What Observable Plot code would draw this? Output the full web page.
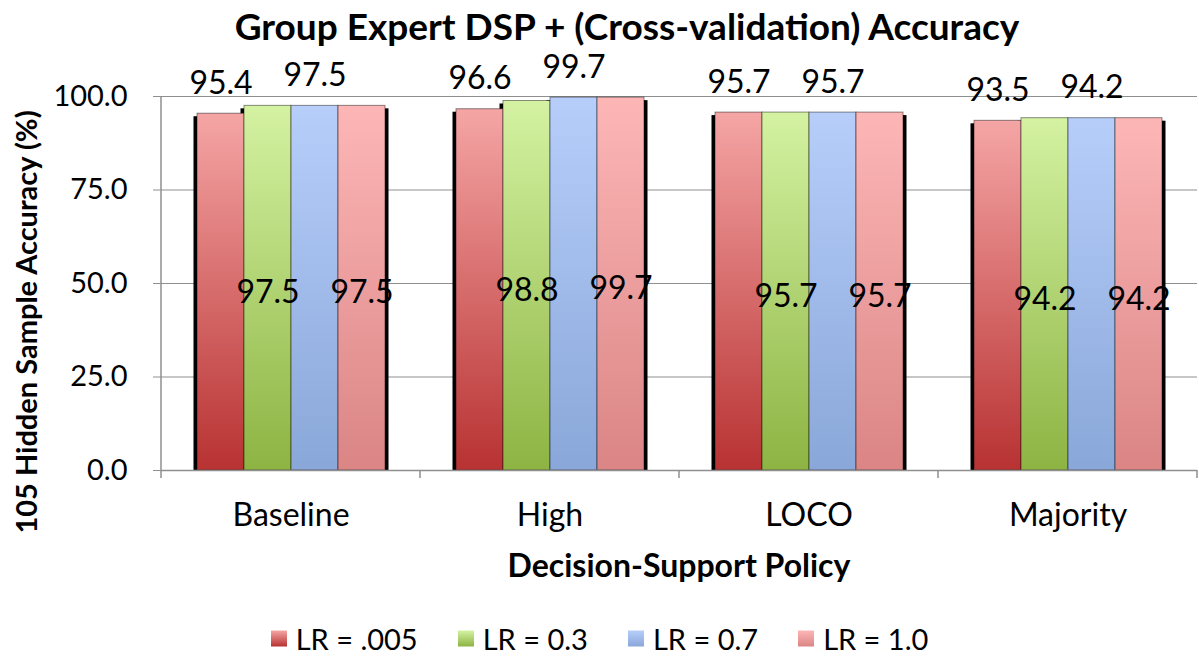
<!DOCTYPE html>
<html>
<head>
<meta charset="utf-8">
<script src="https://cdn.jsdelivr.net/npm/d3@7"></script>
<script src="https://cdn.jsdelivr.net/npm/@observablehq/plot@0.6"></script>
<style>
  html, body { margin: 0; padding: 0; background: #fff; }
  #wrap { position: relative; width: 1199px; height: 658px; font-family: Lato, "Open Sans", sans-serif; color: #000; overflow: hidden; }
  #chart { position: absolute; left: 0; top: 0; }
  .title { position: absolute; left: 627px; top: 25px; transform: translate(-50%, -50%); font-size: 37px; font-weight: 700; white-space: nowrap; line-height: 1; }
  .ytitle { position: absolute; left: 25px; top: 322px; transform: translate(-50%, -50%) rotate(-90deg); font-size: 29px; font-weight: 700; white-space: nowrap; line-height: 1; }
  .xtitle { position: absolute; left: 679px; top: 565px; transform: translate(-50%, -50%); font-size: 32px; font-weight: 700; white-space: nowrap; line-height: 1; }
  .legend { position: absolute; left: 0; width: 1199px; top: 638px; transform: translateY(-50%); display: flex; justify-content: center; gap: 40px; font-size: 29px; line-height: 1; }
  .legend .item { display: flex; align-items: center; gap: 9px; }
  .legend .sw { width: 16px; height: 16px; }
</style>
</head>
<body>
<div id="wrap">
  <div id="chart"></div>
  <div class="title" id="title"></div>
  <div class="ytitle" id="ytitle"></div>
  <div class="xtitle" id="xtitle"></div>
  <div class="legend" id="legend"></div>
</div>
<script>
// ---- data ----
const titleText = "Group Expert DSP + (Cross-validation) Accuracy";
const yTitle = "105 Hidden Sample Accuracy (%)";
const xTitle = "Decision-Support Policy";
const categories = ["Baseline", "High", "LOCO", "Majority"];
const series = ["LR = .005", "LR = 0.3", "LR = 0.7", "LR = 1.0"];
const lr005 = [95.4, 96.6, 95.7, 93.5];
const lr03  = [97.5, 98.8, 95.7, 94.2];
const lr07  = [97.5, 99.7, 95.7, 94.2];
const lr10  = [97.5, 99.7, 95.7, 94.2];
const yTicks = [0, 25, 50, 75, 100];
const topLabelSeries = ["LR = .005", "LR = 0.7"];
const midLabelSeries = ["LR = 0.3", "LR = 1.0"];

// ---- styles ----
const gradTop = ["#f5a5a5", "#d4f2a2", "#b7cefa", "#fdb6b6"];
const gradBottom = ["#b83232", "#8db443", "#89a7d9", "#db8585"];
const gridColor = "#8f8f8f";

const seriesValues = [lr005, lr03, lr07, lr10];
const data = categories.flatMap((c, i) => series.map((s, j) => ({category: c, series: s, value: seriesValues[j][i]})));

document.getElementById("title").textContent = titleText;
document.getElementById("ytitle").textContent = yTitle;
document.getElementById("xtitle").textContent = xTitle;

const fmt = d3.format(".1f");

const chart = Plot.plot({
  width: 1199,
  height: 658,
  marginTop: 96,
  marginBottom: 188,
  marginLeft: 161,
  marginRight: 2,
  style: {fontFamily: "Lato, 'Open Sans', sans-serif", color: "#000", background: "transparent", overflow: "visible"},
  fx: {domain: categories, padding: 0, axis: null, label: null},
  x: {domain: series, paddingInner: 0, paddingOuter: 0.72, axis: null},
  y: {domain: [0, 100], axis: null},
  color: {domain: series, range: series.map((s, i) => `url(#grad${i})`)},
  marks: [
    Plot.gridY(yTicks.slice(1), {stroke: gridColor, strokeOpacity: 1, strokeWidth: 1.2}),
    Plot.barY(data, {fx: "category", x: "series", y: "value", fill: "#000", insetLeft: -3.5, insetRight: -3.5, insetTop: 3}),
    Plot.barY(data, {fx: "category", x: "series", y: "value", fill: "series", stroke: "#000", strokeOpacity: 0.45, strokeWidth: 1}),
    Plot.ruleY([0], {stroke: gridColor, strokeWidth: 1.5}),
    Plot.axisY({ticks: yTicks, tickFormat: fmt, tickSize: 8, tickPadding: 26, fontSize: 29, stroke: gridColor, label: null}),
    Plot.axisFx({anchor: "bottom", tickSize: 0, tickPadding: 33, fontSize: 32, label: null}),
    Plot.text(data.filter(d => topLabelSeries.includes(d.series)), {fx: "category", x: "series", y: "value", text: d => fmt(d.value), dy: -30, fontSize: 32, fill: "#000"}),
    Plot.text(data.filter(d => midLabelSeries.includes(d.series)), {fx: "category", x: "series", y: d => d.value / 2, text: d => fmt(d.value), dy: 5, fontSize: 32, fill: "#000"})
  ]
});

// gradients
const svg = d3.select(chart);
const defs = svg.insert("defs", ":first-child");
series.forEach((s, i) => {
  const g = defs.append("linearGradient").attr("id", `grad${i}`).attr("x1", 0).attr("y1", 0).attr("x2", 0).attr("y2", 1);
  g.append("stop").attr("offset", "0%").attr("stop-color", gradTop[i]);
  g.append("stop").attr("offset", "100%").attr("stop-color", gradBottom[i]);
});

// axis lines and category boundary ticks from the plot's scales
const fxScale = chart.scale("fx");
const yScale = chart.scale("y");
const y0 = yScale.apply(0), y100 = yScale.apply(yTicks[yTicks.length - 1]);
const xStart = fxScale.apply(categories[0]);
const bounds = categories.map(c => fxScale.apply(c)).concat([fxScale.apply(categories[categories.length - 1]) + fxScale.bandwidth]);
const g = svg.append("g").attr("stroke", gridColor).attr("stroke-width", 1.5);
g.append("line").attr("x1", xStart).attr("x2", xStart).attr("y1", y100).attr("y2", y0);
bounds.forEach(b => g.append("line").attr("x1", b).attr("x2", b).attr("y1", y0).attr("y2", y0 + 8));

document.getElementById("chart").appendChild(chart);

// legend
const legend = document.getElementById("legend");
series.forEach((s, i) => {
  const item = document.createElement("div");
  item.className = "item";
  const sw = document.createElement("div");
  sw.className = "sw";
  sw.style.background = `linear-gradient(${gradTop[i]}, ${gradBottom[i]})`;
  const t = document.createElement("span");
  t.textContent = s;
  item.appendChild(sw);
  item.appendChild(t);
  legend.appendChild(item);
});
</script>
</body>
</html>
